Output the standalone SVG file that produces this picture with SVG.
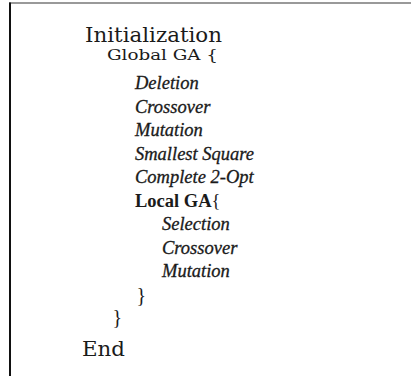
<svg xmlns="http://www.w3.org/2000/svg" width="411" height="376" viewBox="0 0 411 376">
<style>
.sch{font-family:"DejaVu Serif","Liberation Serif",serif;fill:#1a1a1a}
.it{font-family:"Liberation Serif",serif;font-style:italic;font-size:18.5px;fill:#1a1a1a;stroke:#1a1a1a;stroke-width:0.3}
.bd{font-family:"Liberation Serif",serif;font-weight:bold;font-size:18.5px;fill:#1a1a1a}
.br{font-family:"Liberation Serif",serif;font-size:20px;fill:#1a1a1a}
</style>
<rect width="411" height="376" fill="#fff"/>
<g id="frame">
<line x1="9" y1="3" x2="411" y2="3" stroke="#777" stroke-width="1.5"/>
<line x1="10" y1="2.5" x2="10" y2="376" stroke="#111" stroke-width="2"/>
</g>
<g id="init"><text class="sch" x="85" y="41.5" font-size="20" textLength="137" lengthAdjust="spacingAndGlyphs">Initialization</text></g>
<g id="global"><text class="sch" x="107" y="60" font-size="15.5" textLength="111" lengthAdjust="spacingAndGlyphs">Global GA {</text></g>
<g id="g-deletion"><text class="it" x="135" y="89">Deletion</text></g>
<g id="g-crossover"><text class="it" x="135" y="112.5">Crossover</text></g>
<g id="g-mutation"><text class="it" x="135" y="136">Mutation</text></g>
<g id="g-smallest"><text class="it" x="135" y="159.5">Smallest Square</text></g>
<g id="g-2opt"><text class="it" x="135" y="183">Complete 2-Opt</text></g>
<g id="local"><text class="bd" x="135" y="206.5">Local GA<tspan font-weight="normal">{</tspan></text></g>
<g id="l-selection"><text class="it" x="162" y="230">Selection</text></g>
<g id="l-crossover"><text class="it" x="162" y="253.5">Crossover</text></g>
<g id="l-mutation"><text class="it" x="162" y="277">Mutation</text></g>
<g id="close-local"><text class="br" x="136.5" y="302">}</text></g>
<g id="close-global"><text class="br" x="112.5" y="324">}</text></g>
<g id="end"><text class="sch" x="82" y="356" font-size="20" textLength="43" lengthAdjust="spacingAndGlyphs">End</text></g>
</svg>
